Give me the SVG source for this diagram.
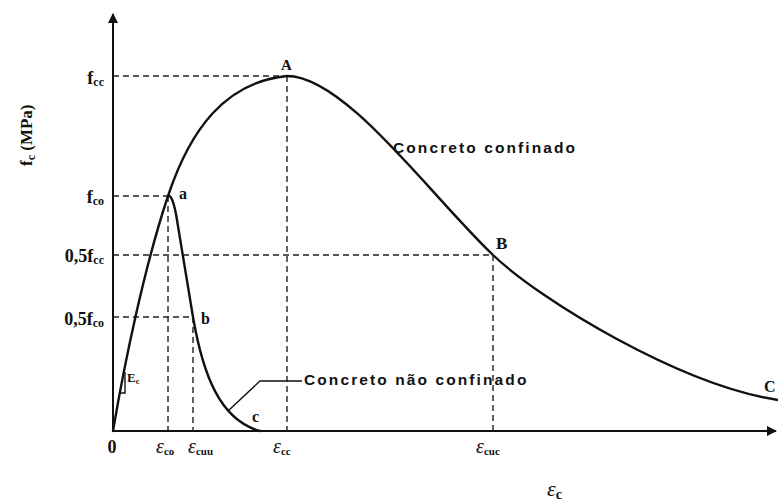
<svg xmlns="http://www.w3.org/2000/svg" width="778" height="503" viewBox="0 0 778 503">
<style>
.ax{stroke:#111;stroke-width:2;fill:none}
.ds{stroke:#222;stroke-width:1.4;stroke-dasharray:6 4;fill:none}
.cv{stroke:#111;stroke-width:2.4;fill:none;stroke-linecap:round;stroke-linejoin:round}
.ld{stroke:#111;stroke-width:1.4;fill:none}
.sf{font-family:"Liberation Serif","Times New Roman",serif;font-weight:bold;fill:#111}
.ss{font-family:"Liberation Sans",Arial,sans-serif;font-weight:bold;fill:#111;font-size:15.5px;letter-spacing:2.1px}
.ep{font-family:"Liberation Serif","Times New Roman",serif;font-style:italic;fill:#111}
</style>
<defs>
<marker id="ah" viewBox="0 0 10 10" refX="9" refY="5" markerWidth="5" markerHeight="5" orient="auto" markerUnits="strokeWidth">
<path d="M0,0 L10,5 L0,10 z" fill="#111"/>
</marker>
</defs>
<rect width="778" height="503" fill="#fff"/>

<g id="axes">
<line class="ax" x1="113" y1="432" x2="113" y2="14" marker-end="url(#ah)"/>
<line class="ax" x1="112" y1="431" x2="776" y2="431" marker-end="url(#ah)"/>
</g>

<g id="guides">
<path class="ds" d="M113,76 H287 M287,76 V431"/>
<path class="ds" d="M113,196 H168 M168,196 V431"/>
<path class="ds" d="M113,255 H493 M493,255 V431"/>
<path class="ds" d="M113,317 H193 M193,317 V431"/>
</g>

<g id="curve-confined">
<path class="cv" d="M113,431 C125,360 145,265 168,196 C190,130 225,82 287,76 C345,76 430,195 493,255 C540,300 680,385 778,400"/>
</g>

<g id="curve-unconfined">
<path class="cv" d="M168,196 Q172,194 176,214 L193,317 C203,375 220,420 260,431"/>
</g>

<g id="connectors">
<polyline class="ld" points="228,411 260,381 302,381"/>
<polyline class="ld" points="119,393 125,393 125,372"/>
</g>

<g id="y-labels">
<text class="sf" x="104" y="84" font-size="18" text-anchor="end">f<tspan font-size="12" dy="2">cc</tspan></text>
<text class="sf" x="104" y="203" font-size="18" text-anchor="end">f<tspan font-size="12" dy="2">co</tspan></text>
<text class="sf" x="104" y="262" font-size="18" text-anchor="end">0,5f<tspan font-size="12" dy="2">cc</tspan></text>
<text class="sf" x="104" y="325" font-size="18" text-anchor="end">0,5f<tspan font-size="12" dy="2">co</tspan></text>
<text class="sf" font-size="17" transform="translate(32,166) rotate(-90)">f<tspan font-size="12" dy="3">c</tspan><tspan dy="-3"> (MPa)</tspan></text>
</g>

<g id="x-labels">
<text class="sf" x="112" y="453" font-size="18" text-anchor="middle">0</text>
<text class="ep" x="156" y="453" font-size="20">ε<tspan class="sf" font-style="normal" font-size="11" dy="2">co</tspan></text>
<text class="ep" x="188" y="453" font-size="20">ε<tspan class="sf" font-style="normal" font-size="11" dy="2">cuu</tspan></text>
<text class="ep" x="273" y="453" font-size="20">ε<tspan class="sf" font-style="normal" font-size="11" dy="2">cc</tspan></text>
<text class="ep" x="476" y="453" font-size="20">ε<tspan class="sf" font-style="normal" font-size="11" dy="2">cuc</tspan></text>
<text class="ep" x="547" y="496" font-size="22">ε<tspan font-style="normal" font-weight="bold" font-size="14" dy="3">c</tspan></text>
</g>

<g id="points">
<text class="sf" x="179" y="199" font-size="16">a</text>
<text class="sf" x="201" y="324" font-size="16">b</text>
<text class="sf" x="252" y="422" font-size="16">c</text>
<text class="sf" x="281" y="70" font-size="15">A</text>
<text class="sf" x="496" y="249" font-size="17">B</text>
<text class="sf" x="764" y="392" font-size="16">C</text>
<text class="sf" x="127" y="382" font-size="13">E<tspan font-size="9" dy="2">c</tspan></text>
</g>

<g id="titles">
<text class="ss" x="393" y="153">Concreto confinado</text>
<text class="ss" x="304" y="385">Concreto não confinado</text>
</g>
</svg>
